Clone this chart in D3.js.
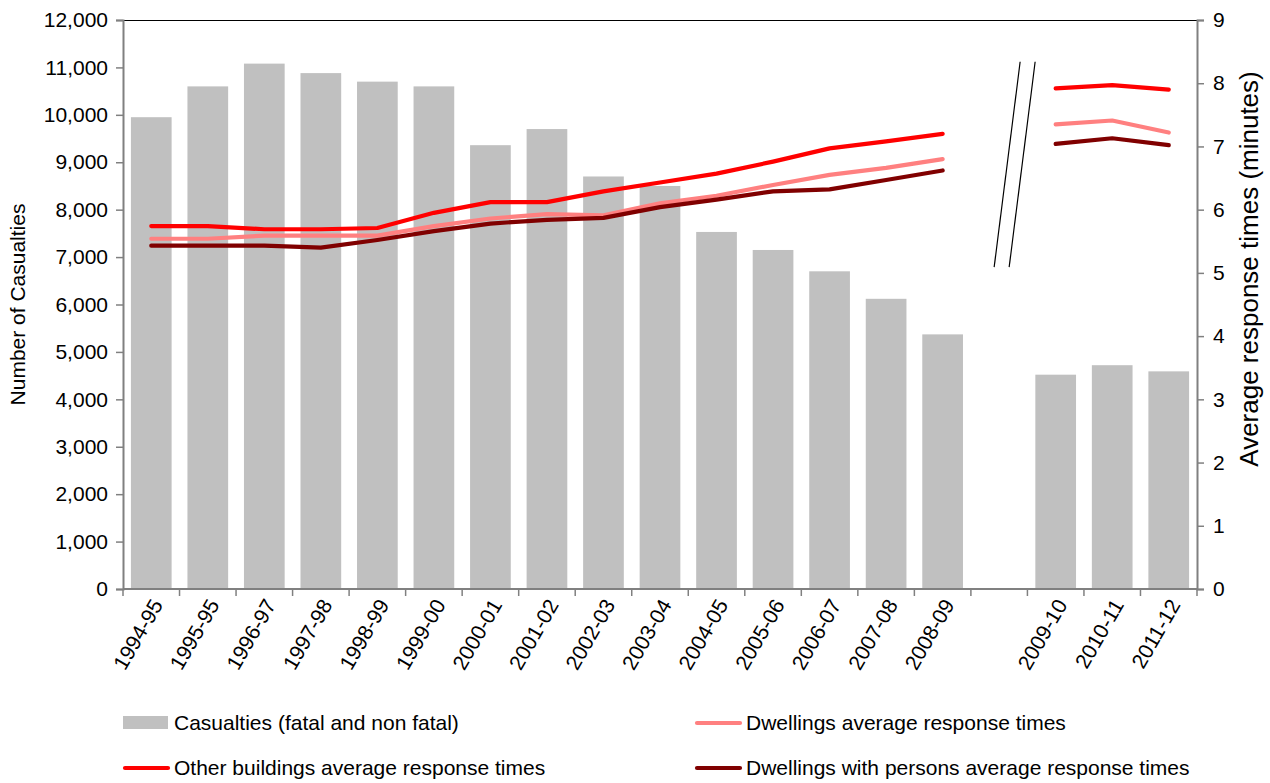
<!DOCTYPE html>
<html>
<head>
<meta charset="utf-8">
<script src="https://cdn.jsdelivr.net/npm/d3@7"></script>
<style>
  html, body { margin: 0; padding: 0; background: #fff; }
  svg text { font-family: "Liberation Sans", Arial, sans-serif; fill: #000; }
</style>
</head>
<body>
<svg id="chart" width="1270" height="783"></svg>
<script>
// Financial years; the blank entry is the break between 2008-09 and 2009-10
const years = ["1994-95","1995-95","1996-97","1997-98","1998-99","1999-00","2000-01",
  "2001-02","2002-03","2003-04","2004-05","2005-06","2006-07","2007-08","2008-09",
  "", "2009-10","2010-11","2011-12"];

// Casualties (fatal and non fatal), left axis
const casualties = [9950, 10600, 11080, 10880, 10700, 10600, 9360, 9700, 8700, 8500,
  7530, 7150, 6700, 6120, 5370, null, 4520, 4720, 4590];

// Average response times in minutes, right axis
const otherBuildings = [5.74, 5.74, 5.69, 5.69, 5.71, 5.95, 6.12, 6.12, 6.29, 6.43,
  6.57, 6.76, 6.97, 7.08, 7.20, null, 7.92, 7.97, 7.90];
const dwellings = [5.54, 5.54, 5.59, 5.59, 5.59, 5.74, 5.86, 5.93, 5.91, 6.10,
  6.22, 6.39, 6.55, 6.66, 6.80, null, 7.35, 7.41, 7.22];
const dwellingsWithPersons = [5.43, 5.43, 5.43, 5.40, 5.52, 5.66, 5.78, 5.84, 5.87, 6.04,
  6.16, 6.29, 6.32, 6.47, 6.62, null, 7.04, 7.13, 7.02];

const leftTicks = [0, 1000, 2000, 3000, 4000, 5000, 6000, 7000, 8000, 9000, 10000, 11000, 12000];
const rightTicks = [0, 1, 2, 3, 4, 5, 6, 7, 8, 9];

const lineSeries = [
  { name: "Dwellings average response times", values: dwellings, color: "#ff8080" },
  { name: "Dwellings with persons average response times", values: dwellingsWithPersons, color: "#800000" },
  { name: "Other buildings average response times", values: otherBuildings, color: "#ff0000" }
];

const svg = d3.select("#chart");
const plot = { left: 123, right: 1197, top: 20, bottom: 589 };

const x = d3.scaleBand().domain(years.map((d, i) => i))
  .range([plot.left, plot.right]).paddingInner(0.28).paddingOuter(0.14);
const yL = d3.scaleLinear().domain([0, 12000]).range([plot.bottom, plot.top]);
const yR = d3.scaleLinear().domain([0, 9]).range([plot.bottom, plot.top]);
const step = x.step();

// Bars
svg.append("g").selectAll("rect")
  .data(casualties.map((v, i) => ({ v, i })).filter(d => d.v != null))
  .join("rect")
  .attr("x", d => x(d.i))
  .attr("width", x.bandwidth())
  .attr("y", d => yL(d.v))
  .attr("height", d => yL(0) - yL(d.v))
  .attr("fill", "#c0c0c0");

// Top border of plot area
svg.append("line")
  .attr("x1", plot.left).attr("x2", plot.right)
  .attr("y1", plot.top + 0.5).attr("y2", plot.top + 0.5)
  .attr("stroke", "#000").attr("stroke-width", 1);

// Left axis
const axL = svg.append("g").attr("transform", `translate(${plot.left},0)`)
  .call(d3.axisLeft(yL).tickValues(leftTicks).tickSize(7).tickPadding(8)
    .tickFormat(d3.format(",")));
// Right axis
const axR = svg.append("g").attr("transform", `translate(${plot.right},0)`)
  .call(d3.axisRight(yR).tickValues(rightTicks).tickSize(7).tickPadding(9)
    .tickFormat(d3.format("d")));
[axL, axR].forEach(ax => {
  ax.select(".domain").attr("stroke", "#808080").attr("stroke-width", 2);
  ax.selectAll(".tick line").attr("stroke", "#808080").attr("stroke-width", 1.5);
  ax.selectAll(".tick text").style("font-size", "21px")
    .style("font-family", "'Liberation Sans', Arial, sans-serif").attr("fill", "#000");
});

// Bottom axis: tick marks sit on the category boundaries
const axB = svg.append("g");
axB.append("line")
  .attr("x1", plot.left).attr("x2", plot.right)
  .attr("y1", plot.bottom).attr("y2", plot.bottom)
  .attr("stroke", "#808080").attr("stroke-width", 2);
axB.selectAll("line.tk").data(d3.range(years.length + 1)).join("line")
  .attr("class", "tk")
  .attr("x1", i => plot.left + i * step).attr("x2", i => plot.left + i * step)
  .attr("y1", plot.bottom).attr("y2", plot.bottom + 7)
  .attr("stroke", "#808080").attr("stroke-width", 1.5);
axB.selectAll("text").data(years.map((d, i) => ({ d, i })).filter(o => o.d !== ""))
  .join("text")
  .attr("transform", o => `translate(${x(o.i) + x.bandwidth() / 2 + 6},${plot.bottom + 12}) rotate(-60)`)
  .attr("text-anchor", "end")
  .attr("dy", "0.35em")
  .style("font-size", "21px")
  .text(o => o.d);

// Response time lines
const line = d3.line()
  .defined(d => d.v != null)
  .x(d => x(d.i) + x.bandwidth() / 2)
  .y(d => yR(d.v));
svg.append("g").selectAll("path").data(lineSeries).join("path")
  .attr("d", s => line(s.values.map((v, i) => ({ v, i }))))
  .attr("fill", "none")
  .attr("stroke", s => s.color)
  .attr("stroke-width", 4.2)
  .attr("stroke-linejoin", "round")
  .attr("stroke-linecap", "round");

// Axis break marks, drawn just right of the empty slot's centre
const gapIdx = years.indexOf("");
const gx = x(gapIdx) + x.bandwidth() / 2 + 15.5;
[-7.5, 7.5].forEach(off => {
  svg.append("line")
    .attr("x1", gx + off + 13).attr("y1", yR(8.34))
    .attr("x2", gx + off - 13).attr("y2", yR(5.09))
    .attr("stroke", "#000").attr("stroke-width", 1.2);
});

// Axis titles
svg.append("text")
  .attr("transform", `translate(25,${(plot.top + plot.bottom) / 2}) rotate(-90)`)
  .attr("text-anchor", "middle")
  .style("font-size", "21px")
  .text("Number of Casualties");
svg.append("text")
  .attr("transform", `translate(1258,269) rotate(-90)`)
  .attr("text-anchor", "middle")
  .style("font-size", "26px")
  .text("Average response times (minutes)");

// Legend
const legend = svg.append("g");
const legendItems = [
  { label: "Casualties (fatal and non fatal)", type: "bar", color: "#c0c0c0", x: 123, y: 723 },
  { label: "Dwellings average response times", type: "line", color: "#ff8080", x: 695, y: 723 },
  { label: "Other buildings average response times", type: "line", color: "#ff0000", x: 123, y: 768 },
  { label: "Dwellings with persons average response times", type: "line", color: "#800000", x: 695, y: 768 }
];
legendItems.forEach(it => {
  const g = legend.append("g").attr("transform", `translate(${it.x},${it.y})`);
  if (it.type === "bar") {
    g.append("rect").attr("x", 0).attr("y", -7).attr("width", 45).attr("height", 13).attr("fill", it.color);
  } else {
    g.append("line").attr("x1", 2).attr("x2", 45).attr("y1", 0).attr("y2", 0)
      .attr("stroke", it.color).attr("stroke-width", 4.2).attr("stroke-linecap", "round");
  }
  g.append("text").attr("x", 51).attr("dy", "0.35em").style("font-size", "21px").text(it.label);
});
</script>
</body>
</html>
